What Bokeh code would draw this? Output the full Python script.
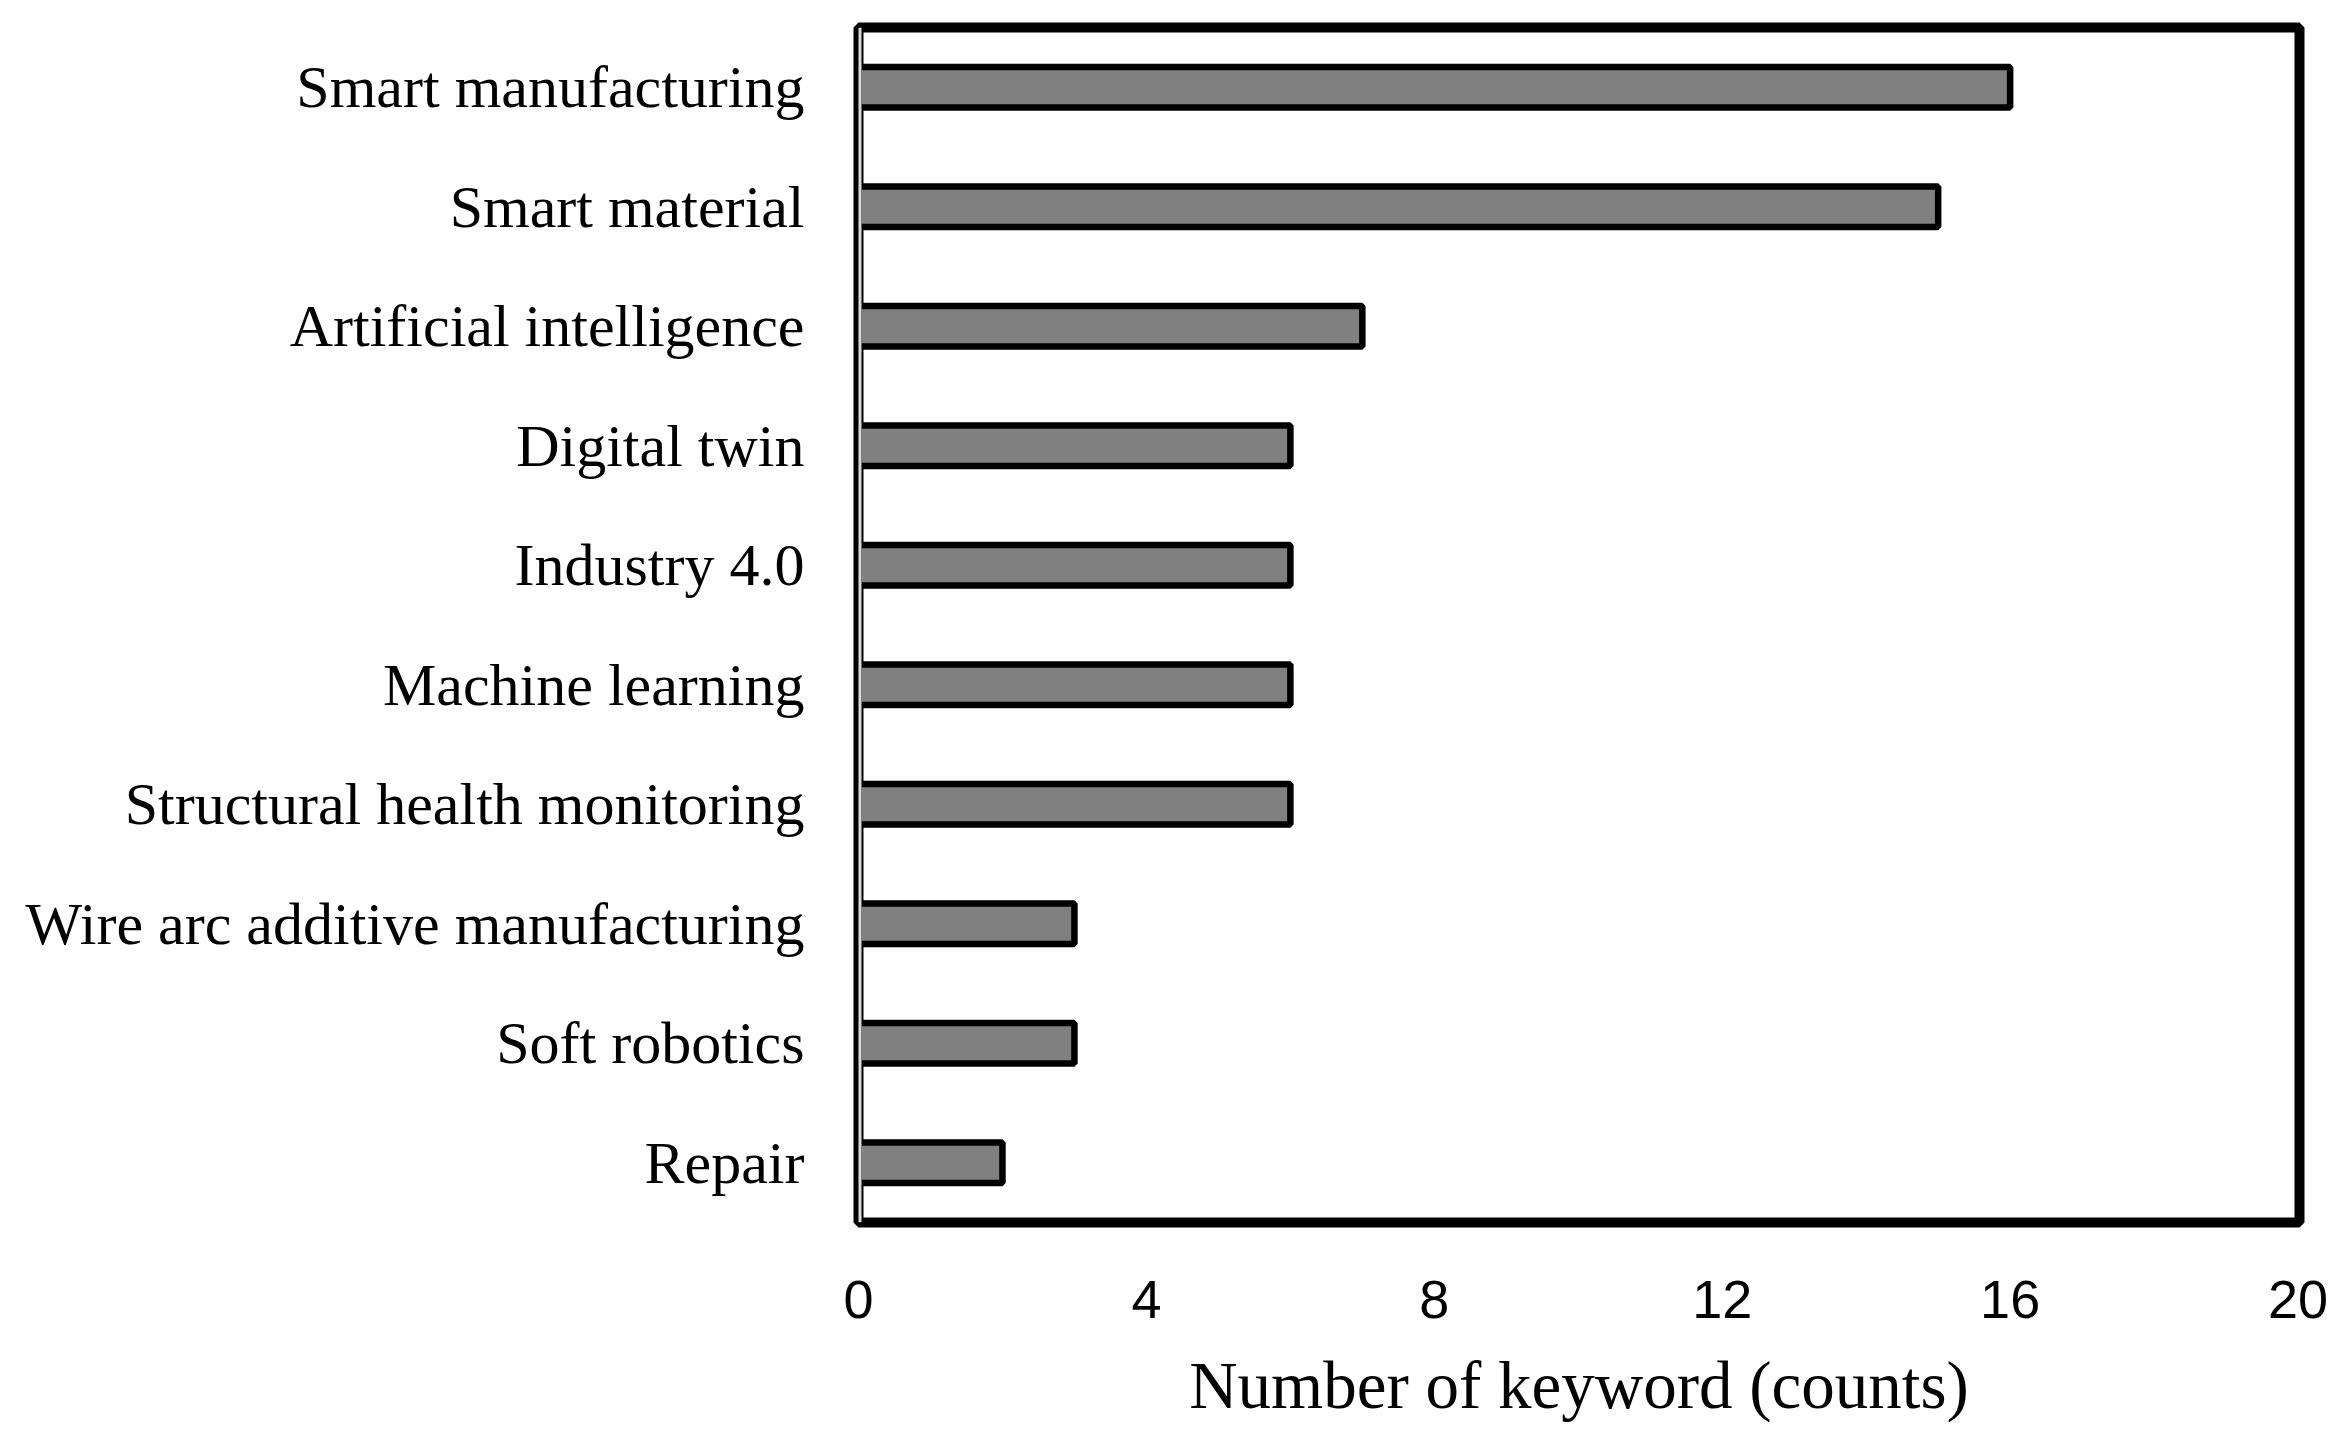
from bokeh.plotting import figure
from bokeh.models import Range1d, FactorRange, FixedTicker, Span, ColumnDataSource
from bokeh.embed import file_html
from bokeh.resources import INLINE

categories = ["Smart manufacturing", "Smart material", "Artificial intelligence",
              "Digital twin", "Industry 4.0", "Machine learning",
              "Structural health monitoring", "Wire arc additive manufacturing",
              "Soft robotics", "Repair"]
counts = [16, 15, 7, 6, 6, 6, 6, 3, 3, 2]
x_ticks = [0, 4, 8, 12, 16, 20]
x_title = "Number of keyword (counts)"

src = ColumnDataSource(dict(cat=categories, val=counts))

p = figure(width=2332, height=1424, output_backend="svg", toolbar_location=None,
           x_range=Range1d(0, 20.02), y_range=FactorRange(factors=categories[::-1]),
           min_border_left=858, min_border_top=27, min_border_right=33, min_border_bottom=199)

p.hbar(y="cat", right="val", left=0, height=0.34, source=src,
       fill_color="#808080", line_color="black", line_width=6.5)

p.outline_line_color = "black"
p.outline_line_width = 10
p.outline_line_alpha = 1.0

p.xgrid.visible = False
p.ygrid.visible = False

xa = p.xaxis[0]
xa.ticker = FixedTicker(ticks=x_ticks)
xa.axis_line_color = None
xa.major_tick_line_color = None
xa.minor_tick_line_color = None
xa.major_tick_in = 0
xa.major_tick_out = 0
xa.major_label_standoff = 58
xa.major_label_text_font = "Liberation Sans"
xa.major_label_text_font_size = "54px"
xa.major_label_text_color = "black"
xa.axis_label = x_title
xa.axis_label_text_font = "Liberation Serif"
xa.axis_label_text_font_size = "67px"
xa.axis_label_text_font_style = "normal"
xa.axis_label_text_color = "black"
xa.axis_label_standoff = 27

ya = p.yaxis[0]
ya.axis_line_color = None
ya.major_tick_line_color = None
ya.minor_tick_line_color = None
ya.major_tick_in = 0
ya.major_tick_out = 0
ya.major_label_standoff = 54
ya.major_label_text_font = "Liberation Serif"
ya.major_label_text_font_size = "60px"
ya.major_label_text_color = "black"

p.add_layout(Span(location=0, dimension="height", line_color="#d9d9d9", line_width=6, level="overlay"))

open("out.html", "w").write(file_html(p, INLINE))
